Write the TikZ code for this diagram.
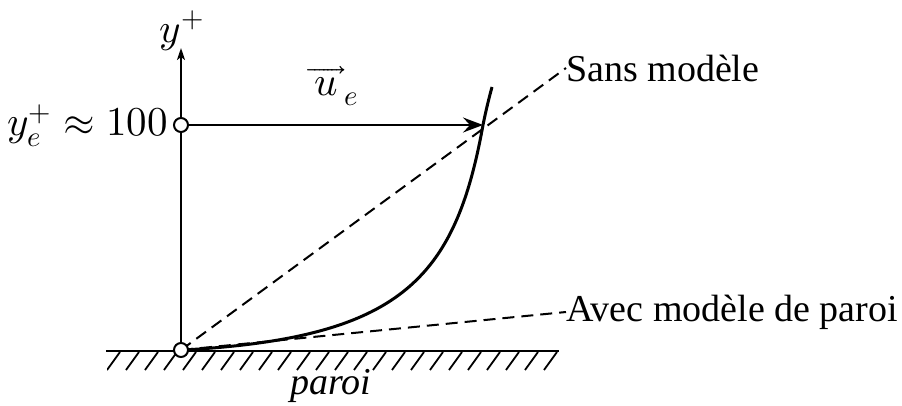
\documentclass[tikz,border=0pt]{standalone}
\usepackage{fontspec}
\usepackage{unicode-math}
\setmainfont{Liberation Serif}
\setmathfont{Latin Modern Math}
\usetikzlibrary{arrows.meta}
\begin{document}
\begin{tikzpicture}[x=1pt,y=-1pt,
  lbl/.style={inner sep=0pt,font=\fontsize{38}{46}\selectfont},
  mlbl/.style={inner sep=0pt,font=\fontsize{41}{49}\selectfont},
  pt/.style={circle,draw,fill=white,line width=2pt,minimum size=14pt,inner sep=0pt},
  axis/.style={line width=2pt},
  dashline/.style={line width=2pt,dash pattern=on 12pt off 7pt},
  profile/.style={line width=3pt},
  hatch/.style={line width=1.8pt}]
\useasboundingbox (0,0) rectangle (902,406);
% points
\coordinate (o) at (181,350);
\coordinate (e) at (181,125);
\coordinate (ytip) at (181,48);
\coordinate (ue) at (483,125);
\coordinate (top) at (492,87);
\coordinate (wl) at (106,351);
\coordinate (wr) at (559,351);
% labels
\node[lbl,anchor=west] (sans) at (566,68) {Sans modèle};
\node[lbl,anchor=west] (avec) at (566,312) {Avec modèle de paroi};
\node[lbl] (paroi) at (331,386) {\itshape paroi};
\node[mlbl] (ylab) at (182,31) {$y^{+}$};
\node[mlbl,anchor=base east] (yelab) at (168,136) {$y_e^{+}\approx 100$};
\node[mlbl] (uelab) at (333,86) {$\overrightarrow{\,u\,}_{e}$};
% wall hatch
\begin{scope}
\clip (107,349) rectangle (558,371);
\foreach \i in {0,...,23}
  \draw[hatch] ({107+\i*19},370) -- ++(13,-18);
\end{scope}
\draw[line width=2.5pt] (wl) -- (wr);
% axis
\draw[axis,-{Stealth[length=12pt,width=8pt,inset=3pt]}] (o) -- (ytip);
% dashed lines
\draw[dashline] (o) -- (sans.west);
\draw[dashline] (o) -- (avec.west);
% velocity arrow
\draw[axis,-{Stealth[length=20pt,width=15pt,inset=7pt]}] (e) -- (ue);
% profile
\draw[profile] (183,350) .. controls (400,338) and (455,280) .. (ue)
  .. controls (486,110) and (489,98) .. (top);
% points
\node[pt] (O) at (o) {};
\node[pt] (E) at (e) {};
\end{tikzpicture}
\end{document}
